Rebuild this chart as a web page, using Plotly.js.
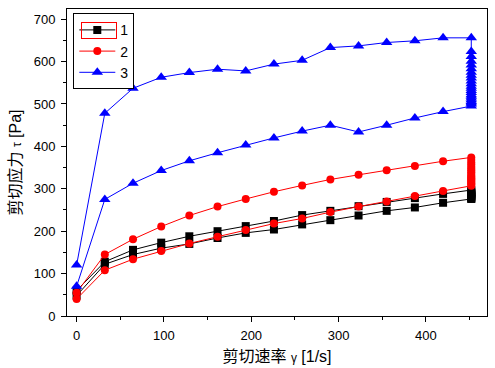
<!DOCTYPE html>
<html>
<head>
<meta charset="utf-8">
<script src="https://cdn.plot.ly/plotly-3.0.1.min.js"></script>
<style>html,body{margin:0;padding:0;background:#fff;}#chart{width:495px;height:368px;}</style>
</head>
<body>
<div id="chart"></div>
<script>
// Shear rate steps (ramp up); ramp down uses the same steps reversed
const shearRateUp = [0, 32.3, 64.6, 96.9, 129.1, 161.4, 193.7, 226, 258.3, 290.6, 322.9, 355.1, 387.4, 419.7, 452];
const holdRate = 452;

// Series 1 (black squares)
const s1Up   = [60, 128, 156, 173, 188, 200, 212, 224, 238, 248, 259, 269, 278, 288, 297];
const s1Hold = [294, 291, 289, 287, 285, 283, 281, 279, 277];
const s1Down = [276, 267, 256, 248, 237, 226, 216, 204, 196, 184, 170, 160, 145, 122, 48];

// Series 2 (red circles)
const s2Up   = [55, 145, 181, 211, 237, 258, 276, 293, 308, 322, 333, 344, 354, 365, 374];
const s2Hold = [368, 362, 357, 352, 347, 343, 339, 335, 331, 328, 325, 322, 319, 316, 313, 310];
const s2Down = [307, 295, 283, 270, 258, 245, 230, 218, 203, 187, 171, 153, 134, 108, 40];

// Series 3 (blue triangles)
const s3Up   = [120, 478, 537, 563, 574, 582, 578, 594, 603, 633, 637, 645, 649, 656, 656];
const s3Hold = [624, 612, 601, 592, 583, 575, 568, 561, 554, 548, 542, 537, 532, 527, 522, 518, 514, 510, 506, 503, 500];
const s3Down = [495, 482, 467, 450, 434, 450, 436, 420, 403, 385, 366, 343, 313, 275, 70];

const seriesNames = ['1', '2', '3'];

function buildX(hold) {
  const down = shearRateUp.slice().reverse();
  return shearRateUp.concat(hold.map(() => holdRate), down);
}
function buildY(up, hold, down) { return up.concat(hold, down); }

const FONT = 'Arial, "Liberation Sans", "Noto Sans CJK SC", sans-serif';

const traces = [
  {name: seriesNames[0], x: buildX(s1Hold), y: buildY(s1Up, s1Hold, s1Down),
   mode: 'lines+markers', line: {color: '#000000', width: 1},
   marker: {symbol: 'square', size: 8, color: '#000000'}},
  {name: seriesNames[1], x: buildX(s2Hold), y: buildY(s2Up, s2Hold, s2Down),
   mode: 'lines+markers', line: {color: '#ff0000', width: 1},
   marker: {symbol: 'circle', size: 8, color: '#ff0000'}},
  {name: seriesNames[2], x: buildX(s3Hold), y: buildY(s3Up, s3Hold, s3Down),
   mode: 'lines+markers', line: {color: '#0000ff', width: 1},
   marker: {symbol: 'triangle-up', size: 10, color: '#0000ff'}}
];

const axisCommon = {
  showline: true, mirror: true, linecolor: '#000', linewidth: 1,
  ticks: 'outside', ticklen: 5, tickwidth: 1, tickcolor: '#000',
  showgrid: false, zeroline: false,
  tickfont: {family: FONT, size: 13, color: '#000'},
  minor: {ticks: 'outside', ticklen: 3, tickcolor: '#000', dtick: 50, showgrid: false}
};

const layout = {
  width: 495, height: 368,
  margin: {l: 67, r: 8, t: 9, b: 52},
  paper_bgcolor: '#fff', plot_bgcolor: '#fff',
  showlegend: true,
  xaxis: Object.assign({}, axisCommon, {
    range: [-11, 470], dtick: 100, tick0: 0, ticklabelstandoff: 2,
    title: {text: '剪切速率 <span style="font-size:12px">γ</span> [1/s]', font: {family: FONT, size: 16, color: '#000'}, standoff: 9}
  }),
  yaxis: Object.assign({}, axisCommon, {
    range: [0, 724], dtick: 100, tick0: 0, ticklabelstandoff: 3,
    title: {text: '剪切应力 <span style="font-size:12px">τ</span> [Pa]', font: {family: FONT, size: 16, color: '#000'}, standoff: 8}
  }),
  legend: {
    x: 0.015, y: 0.986, xanchor: 'left', yanchor: 'top',
    bgcolor: '#fff', bordercolor: '#000', borderwidth: 1,
    font: {family: FONT, size: 14, color: '#000'},
    tracegroupgap: 0, itemwidth: 36
  },
  annotations: [{
    xref: 'paper', yref: 'paper', x: 0.0345, y: 0.957,
    xanchor: 'left', yanchor: 'top', text: ' ', showarrow: false,
    width: 34, height: 15, bordercolor: '#ff0000', borderwidth: 1, borderpad: 0,
    bgcolor: 'rgba(0,0,0,0)'
  }]
};

Plotly.newPlot('chart', traces, layout, {displayModeBar: false, staticPlot: true});
</script>
</body>
</html>
